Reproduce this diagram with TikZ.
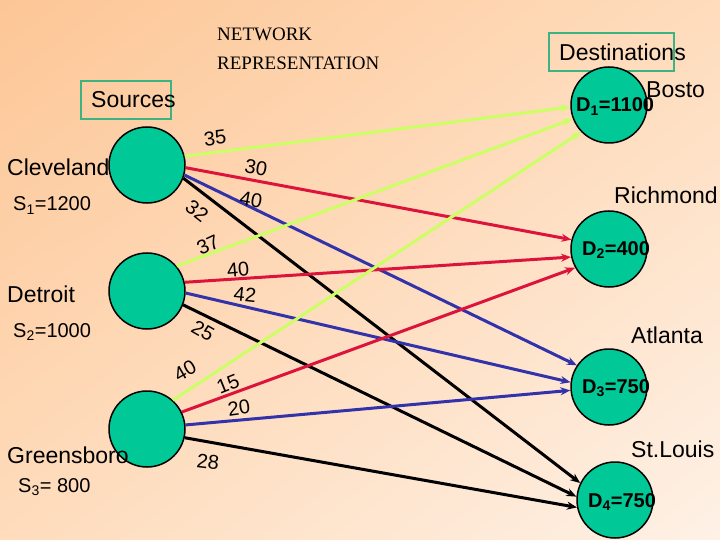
\documentclass[tikz,border=0pt]{standalone}
\usepackage{fontspec}
\setmainfont{Liberation Sans}
\newfontfamily\titlefont{Liberation Serif}
\usetikzlibrary{arrows.meta,shadings}
\definecolor{bgA}{RGB}{253,198,150}
\definecolor{bgB}{RGB}{254,220,188}
\definecolor{bgC}{RGB}{254,241,230}
\definecolor{nodefill}{RGB}{0,200,150}
\definecolor{boxc}{RGB}{60,180,130}
\definecolor{lgreen}{RGB}{204,255,102}
\definecolor{lred}{RGB}{220,20,60}
\definecolor{lblue}{RGB}{50,50,170}
\begin{document}
\begin{tikzpicture}[x=1pt,y=-1pt,
  city/.style={circle, draw=black, line width=1.5pt, fill=nodefill, minimum size=76pt, inner sep=0pt},
  lbl/.style={font=\fontsize{23}{26}\selectfont, anchor=base west, inner sep=0pt},
  supply/.style={font=\fontsize{20}{22}\selectfont, anchor=base west, inner sep=0pt},
  demand/.style={font=\fontsize{20}{22}\selectfont\bfseries, anchor=base west, inner sep=0pt},
  cost/.style={font=\fontsize{20}{22}\selectfont, inner sep=0pt},
  flow/.style={line width=3pt, -{Stealth[length=10pt,width=8pt]}},
  ttl/.style={font=\fontsize{19}{22}\selectfont\titlefont, anchor=base west, inner sep=0pt},
  hbox/.style={draw=boxc, line width=2pt}
]
\useasboundingbox (0,0) rectangle (720,540);
\shade[upper left=bgA, upper right=bgB, lower left=bgB, lower right=bgC] (0,0) rectangle (720,540);

% title
\node[ttl] (t1) at (217,41) {NETWORK};
\node[ttl] (t2) at (217,70) {REPRESENTATION};

% header boxes
\draw[hbox] (81,81) rectangle (171,119);
\draw[hbox] (549,33) rectangle (674,71);

% nodes
\node[city] (cle) at (147,165) {};
\node[city] (det) at (147,291) {};
\node[city] (gre) at (147,429) {};
\node[city] (d1) at (609,105) {};
\node[city] (d2) at (609,249) {};
\node[city] (d3) at (609,387) {};
\node[city] (d4) at (615,500) {};

% Cleveland edges
\draw[flow, lgreen] (cle.13) -- (d1.183);
\draw[flow, lred] (cle.-4) -- (d2.166);
\draw[flow, lblue] (cle.-15) -- (d3.146);
\draw[flow, black] (cle.-20) -- (d4.154);
% Detroit edges
\draw[flow, lgreen] (det.40) -- (d1.201);
\draw[flow, lred] (det.13) -- (d2.192);
\draw[flow, lblue] (det.-3) -- (d3.173);
\draw[flow, black] (det.-21) -- (d4.175);
% Greensboro edges
\draw[flow, lgreen] (gre.48) -- (d1.224);
\draw[flow, lred] (gre.26) -- (d2.209);
\draw[flow, lblue] (gre.6) -- (d3.185);
\draw[flow, black] (gre.-13) -- (d4.191);

% costs
\node[cost, rotate=7] (c11) at (215,138) {35};
\node[cost, rotate=-10] (c12) at (256,168) {30};
\node[cost, rotate=-10] (c13) at (251,200) {40};
\node[cost, rotate=-38] (c14) at (197,211) {32};
\node[cost, rotate=25] (c21) at (208,245) {37};
\node[cost, rotate=5] (c22) at (238,270) {40};
\node[cost, rotate=-6] (c23) at (245,295) {42};
\node[cost, rotate=-30] (c24) at (203,331) {25};
\node[cost, rotate=30] (c31) at (185,371) {40};
\node[cost, rotate=22] (c32) at (228,384) {15};
\node[cost, rotate=8] (c33) at (239,408) {20};
\node[cost, rotate=-7] (c34) at (208,462) {28};

% labels
\node[lbl] (src) at (91,108) {Sources};
\node[lbl] (dst) at (559,61) {Destinations};
\node[lbl] (n1) at (7,176) {Cleveland};
\node[supply] (s1) at (13,211) {S\textsubscript{1}=1200};
\node[lbl] (n2) at (7,302) {Detroit};
\node[supply] (s2) at (13,337) {S\textsubscript{2}=1000};
\node[lbl] (n3) at (7,463) {Greensboro};
\node[supply] (s3) at (18,492) {S\textsubscript{3}= 800};

\node[lbl] (m1) at (646,98) {Bosto};
\node[demand] (dd1) at (576,112) {D\textsubscript{1}=1100};
\node[lbl] (m2) at (614,204) {Richmond};
\node[demand] (dd2) at (582,255) {D\textsubscript{2}=400};
\node[lbl] (m3) at (631,343) {Atlanta};
\node[demand] (dd3) at (582,393) {D\textsubscript{3}=750};
\node[lbl] (m4) at (631,457) {St.Louis};
\node[demand] (dd4) at (588,507) {D\textsubscript{4}=750};
\end{tikzpicture}
\end{document}
